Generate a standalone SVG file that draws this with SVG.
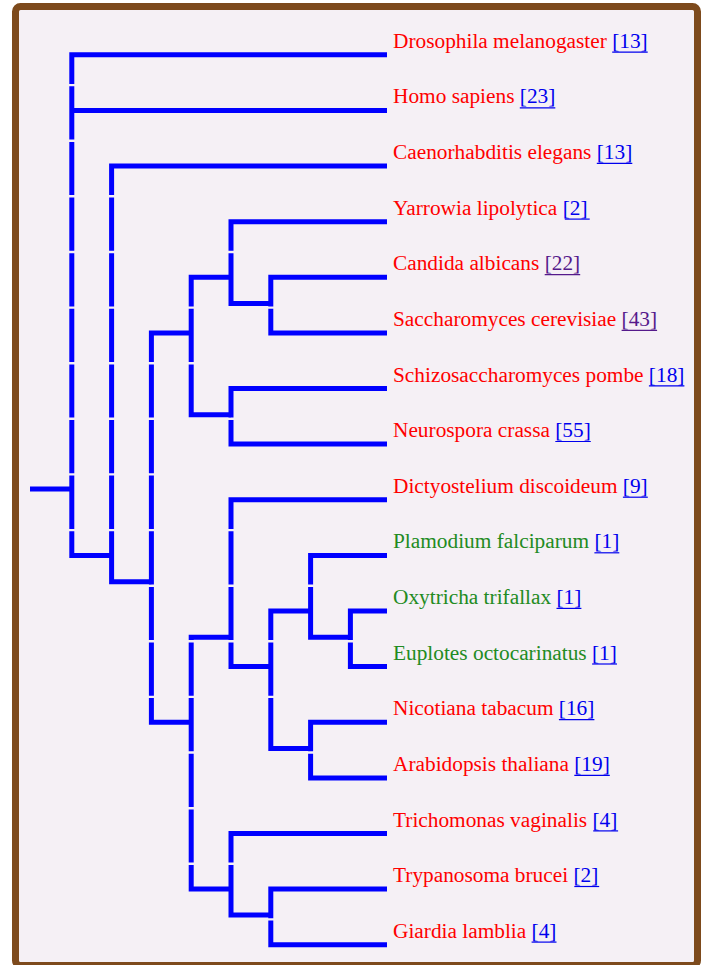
<svg xmlns="http://www.w3.org/2000/svg" width="701" height="965" viewBox="0 0 701 965">
<style>
.frame{fill:#f5f0f5;stroke:#7d4a1c;stroke-width:7}
.br{fill:none;stroke:#0000ff;stroke-width:5;stroke-linejoin:miter;stroke-linecap:butt}
text{font-family:"Liberation Serif","Times New Roman",serif;font-size:21.33px}
.r{fill:#ff0000}
.g{fill:#228b22}
.lk{fill:#0000ee}
.vl{fill:#551a8b}
.ul{stroke:#0000ee;stroke-width:1.2}
.ulv{stroke:#551a8b;stroke-width:1.2}
</style>
<rect x="0" y="0" width="701" height="965" fill="#ffffff"/>
<rect class="frame" x="15.5" y="6.5" width="682" height="959" rx="5" ry="5"/>
<g id="connectors">
<path id="root" class="br" d="M30 489 H71.8 M387 110.4 H71.8 M387 54.8 H71.8 V83.9 M71.8 86.3 V139.5 M71.8 141.9 V195.1 M71.8 197.5 V250.8 M71.8 253.2 V306.4 M71.8 308.8 V362 M71.8 364.4 V417.6 M71.8 420 V473.2 M71.8 475.6 V528.9 M71.8 531.3 V555.4 H111.6"/>
<path id="nodeA" class="br" d="M387 166 H111.6 V195.1 M111.6 197.5 V250.8 M111.6 253.2 V306.4 M111.6 308.8 V362 M111.6 364.4 V417.6 M111.6 420 V473.2 M111.6 475.6 V528.9 M111.6 531.3 V581.7 H151.4"/>
<path id="nodeB" class="br" d="M191.2 332.9 H151.4 V362 M151.4 364.4 V417.6 M151.4 420 V473.2 M151.4 475.6 V528.9 M151.4 531.3 V584.5 M151.4 586.9 V640.1 M151.4 642.5 V695.7 M151.4 698.1 V722.2 H191.2"/>
<path id="nodeFungi" class="br" d="M231 277.3 H191.2 V306.4 M191.2 308.8 V362 M191.2 364.4 V414.8 H231"/>
<path id="nodeY" class="br" d="M387 221.7 H231 V250.8 M231 253.2 V303.6 H270.8"/>
<path id="nodeCS" class="br" d="M387 277.3 H270.8 V306.4 M270.8 308.8 V332.9 H387"/>
<path id="nodeSN" class="br" d="M387 388.5 H231 V417.6 M231 420 V444.1 H387"/>
<path id="nodeC" class="br" d="M231 637.3 H191.2 V640.1 M191.2 642.5 V695.7 M191.2 698.1 V751.3 M191.2 753.7 V807 M191.2 809.4 V862.6 M191.2 865 V889.1 H231"/>
<path id="nodeD" class="br" d="M387 499.8 H231 V528.9 M231 531.3 V584.5 M231 586.9 V640.1 M231 642.5 V666.6 H270.8"/>
<path id="nodeE" class="br" d="M310.6 611 H270.8 V640.1 M270.8 642.5 V695.7 M270.8 698.1 V748.5 H310.6"/>
<path id="nodeP" class="br" d="M387 555.4 H310.6 V584.5 M310.6 586.9 V637.3 H350.4"/>
<path id="nodeOE" class="br" d="M387 611 H350.4 V640.1 M350.4 642.5 V666.6 H387"/>
<path id="nodeNA" class="br" d="M387 722.2 H310.6 V751.3 M310.6 753.7 V777.9 H387"/>
<path id="nodeT" class="br" d="M387 833.5 H231 V862.6 M231 865 V915 H270.8"/>
<path id="nodeTG" class="br" d="M387 889.1 H270.8 V918.2 M270.8 920.6 V944.7 H387"/>
</g>
<g id="leaf0"><text x="393" y="47.8" class="r">Drosophila melanogaster <tspan class="lk">[13]</tspan></text><line class="ul" x1="612.2" y1="52.2" x2="647.7" y2="52.2"/></g>
<g id="leaf1"><text x="393" y="103.4" class="r">Homo sapiens <tspan class="lk">[23]</tspan></text><line class="ul" x1="519.8" y1="107.8" x2="555.3" y2="107.8"/></g>
<g id="leaf2"><text x="393" y="159" class="r">Caenorhabditis elegans <tspan class="lk">[13]</tspan></text><line class="ul" x1="596.8" y1="163.4" x2="632.3" y2="163.4"/></g>
<g id="leaf3"><text x="393" y="214.7" class="r">Yarrowia lipolytica <tspan class="lk">[2]</tspan></text><line class="ul" x1="564.8" y1="219.1" x2="589.7" y2="219.1"/></g>
<g id="leaf4"><text x="393" y="270.3" class="r">Candida albicans <tspan class="vl">[22]</tspan></text><line class="ulv" x1="544.7" y1="274.7" x2="580.2" y2="274.7"/></g>
<g id="leaf5"><text x="393" y="325.9" class="r">Saccharomyces cerevisiae <tspan class="vl">[43]</tspan></text><line class="ulv" x1="621.6" y1="330.3" x2="657.1" y2="330.3"/></g>
<g id="leaf6"><text x="393" y="381.5" class="r">Schizosaccharomyces pombe <tspan class="lk">[18]</tspan></text><line class="ul" x1="648.9" y1="385.9" x2="684.4" y2="385.9"/></g>
<g id="leaf7"><text x="393" y="437.1" class="r">Neurospora crassa <tspan class="lk">[55]</tspan></text><line class="ul" x1="555.3" y1="441.5" x2="590.8" y2="441.5"/></g>
<g id="leaf8"><text x="393" y="492.8" class="r">Dictyostelium discoideum <tspan class="lk">[9]</tspan></text><line class="ul" x1="622.9" y1="497.2" x2="647.8" y2="497.2"/></g>
<g id="leaf9"><text x="393" y="548.4" class="g">Plamodium falciparum <tspan class="lk">[1]</tspan></text><line class="ul" x1="594.4" y1="552.8" x2="619.3" y2="552.8"/></g>
<g id="leaf10"><text x="393" y="604" class="g">Oxytricha trifallax <tspan class="lk">[1]</tspan></text><line class="ul" x1="556.5" y1="608.4" x2="581.4" y2="608.4"/></g>
<g id="leaf11"><text x="393" y="659.6" class="g">Euplotes octocarinatus <tspan class="lk">[1]</tspan></text><line class="ul" x1="592.1" y1="664" x2="617" y2="664"/></g>
<g id="leaf12"><text x="393" y="715.2" class="r">Nicotiana tabacum <tspan class="lk">[16]</tspan></text><line class="ul" x1="558.9" y1="719.6" x2="594.4" y2="719.6"/></g>
<g id="leaf13"><text x="393" y="770.9" class="r">Arabidopsis thaliana <tspan class="lk">[19]</tspan></text><line class="ul" x1="574.3" y1="775.3" x2="609.8" y2="775.3"/></g>
<g id="leaf14"><text x="393" y="826.5" class="r">Trichomonas vaginalis <tspan class="lk">[4]</tspan></text><line class="ul" x1="593.2" y1="830.9" x2="618.1" y2="830.9"/></g>
<g id="leaf15"><text x="393" y="882.1" class="r">Trypanosoma brucei <tspan class="lk">[2]</tspan></text><line class="ul" x1="574.3" y1="886.5" x2="599.2" y2="886.5"/></g>
<g id="leaf16"><text x="393" y="937.7" class="r">Giardia lamblia <tspan class="lk">[4]</tspan></text><line class="ul" x1="531.6" y1="942.1" x2="556.5" y2="942.1"/></g>
</svg>
